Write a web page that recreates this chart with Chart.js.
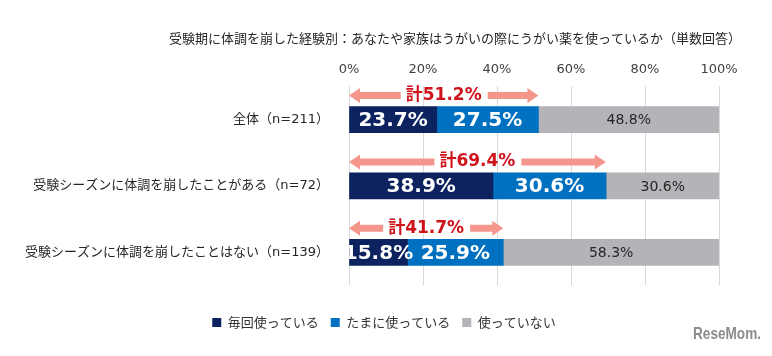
<!DOCTYPE html>
<html><head><meta charset="utf-8">
<script src="https://cdn.jsdelivr.net/npm/chart.js@4"></script>
<style>
html,body{margin:0;padding:0;background:#fff;}
#wrap{position:relative;width:772px;height:356px;}
#mark{position:absolute;left:693px;top:325px;font:bold 17px/17px "Liberation Sans",Arial,sans-serif;color:#8c8c8c;transform:scaleX(0.8);transform-origin:0 0;white-space:nowrap;}
</style></head><body>
<div id="wrap"><canvas id="c" width="772" height="356"></canvas><div id="mark">ReseMom.</div></div>
<script>
const titleText = '受験期に体調を崩した経験別：あなたや家族はうがいの際にうがい薬を使っているか（単数回答）';
const categories = ['全体（n=211）', '受験シーズンに体調を崩したことがある（n=72）', '受験シーズンに体調を崩したことはない（n=139）'];
const seriesNames = ['毎回使っている', 'たまに使っている', '使っていない'];
const everyTime = [23.7, 38.9, 15.8];
const sometimes = [27.5, 30.6, 25.9];
const never = [48.8, 30.6, 58.3];
const totals = [51.2, 69.4, 41.7];
const xTicks = [0, 20, 40, 60, 80, 100];
const colors = ['#0d2360', '#0070c0', '#b4b4b8'];

const JP = '"Noto Sans CJK JP", sans-serif';
const MIX = '"DejaVu Sans", "Noto Sans CJK JP", sans-serif';

const titlePlugin = {
  id: 'topTitle',
  afterDraw(chart) {
    const ctx = chart.ctx;
    ctx.save();
    ctx.font = '13px ' + JP;
    ctx.fillStyle = '#262626';
    ctx.textAlign = 'center';
    ctx.textBaseline = 'middle';
    ctx.fillText(titleText, 455, 38);
    ctx.restore();
  }
};

const legendShift = {
  id: 'legendShift',
  afterLayout(chart) {
    const L = chart.legend;
    if (!L) return;
    L.left += 24.5; L.right += 24.5;
    L.top += 18.5; L.bottom += 18.5;
  }
};

const segLabels = {
  id: 'segLabels',
  afterDatasetsDraw(chart) {
    const ctx = chart.ctx;
    chart.data.datasets.forEach((ds, di) => {
      const meta = chart.getDatasetMeta(di);
      meta.data.forEach((bar, i) => {
        const v = ds.data[i];
        const p = bar.getProps(['x', 'y', 'base'], true);
        const cx = (p.x + p.base) / 2;
        ctx.save();
        if (di < 2) { ctx.font = 'bold 20px "DejaVu Sans", sans-serif'; ctx.fillStyle = '#ffffff'; }
        else { ctx.font = '14px "DejaVu Sans", sans-serif'; ctx.fillStyle = '#262626'; }
        ctx.textAlign = 'center';
        ctx.textBaseline = 'middle';
        ctx.fillText(v.toFixed(1) + '%', cx, p.y + 1);
        ctx.restore();
      });
    });
  }
};

function arrowHead(ctx, xTip, y, dir, shaftEnd) {
  const sh = 3.5, hw = 7.5, hl = 11;
  ctx.beginPath();
  ctx.moveTo(xTip, y);
  ctx.lineTo(xTip + dir * hl, y - hw);
  ctx.lineTo(xTip + dir * hl, y - sh);
  ctx.lineTo(shaftEnd, y - sh);
  ctx.lineTo(shaftEnd, y + sh);
  ctx.lineTo(xTip + dir * hl, y + sh);
  ctx.lineTo(xTip + dir * hl, y + hw);
  ctx.closePath();
  ctx.fill();
}

const totalArrows = {
  id: 'totalArrows',
  afterDatasetsDraw(chart) {
    const ctx = chart.ctx;
    const xs = chart.scales.x;
    const meta = chart.getDatasetMeta(0);
    totals.forEach((t, i) => {
      const bar = meta.data[i];
      const y = bar.y - 24;
      const x0 = xs.getPixelForValue(0);
      const x1 = xs.getPixelForValue(t);
      const txt = '計' + t.toFixed(1) + '%';
      ctx.save();
      ctx.font = 'bold 17px "DejaVu Sans", "Noto Sans CJK JP", sans-serif';
      const w = ctx.measureText(txt).width;
      const tx = (x0 + x1) / 2;
      ctx.fillStyle = '#f4968c';
      arrowHead(ctx, x0, y, 1, tx - w / 2 - 5);
      arrowHead(ctx, x1, y, -1, tx + w / 2 + 6);
      ctx.fillStyle = '#d0121b';
      ctx.textAlign = 'center';
      ctx.textBaseline = 'middle';
      ctx.fillText(txt, tx, y);
      ctx.restore();
    });
  }
};

const seriesData = [everyTime, sometimes, never];

new Chart(document.getElementById('c'), {
  type: 'bar',
  data: {
    labels: categories,
    datasets: seriesNames.map((n, k) => ({
      label: n,
      data: seriesData[k],
      backgroundColor: colors[k],
      borderWidth: 0,
      barThickness: 26
    }))
  },
  options: {
    indexAxis: 'y',
    responsive: false,
    animation: false,
    layout: { padding: { left: 0, right: 53, top: 59, bottom: 35.5 } },
    plugins: {
      title: { display: false },
      tooltip: { enabled: false },
      legend: {
        position: 'bottom',
        labels: {
          boxWidth: 9, boxHeight: 9, padding: 12,
          color: '#333333',
          font: { family: JP, size: 13 }
        }
      }
    },
    scales: {
      x: {
        position: 'top',
        stacked: true,
        min: 0, max: 100,
        afterBuildTicks(s) { s.ticks = xTicks.map(v => ({ value: v })); },
        afterFit(s) { s.height = 27.4; },
        ticks: { callback: v => v + '%', padding: 9, color: '#404040', font: { family: MIX, size: 13 } },
        grid: { color: '#d9d9d9', drawTicks: false },
        border: { display: false }
      },
      y: {
        stacked: true,
        afterFit(s) { s.width = 349; },
        grid: { display: false },
        border: { display: false },
        ticks: { padding: 12, color: '#262626', font: { family: MIX, size: 13 } }
      }
    }
  },
  plugins: [titlePlugin, legendShift, segLabels, totalArrows]
});
</script>
</body></html>
